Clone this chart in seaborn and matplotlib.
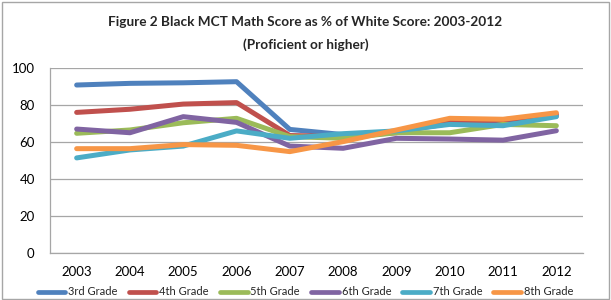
import matplotlib
matplotlib.use("Agg")
import matplotlib.pyplot as plt
import seaborn as sns
import pandas as pd
from matplotlib.patches import Rectangle

years = ["2003", "2004", "2005", "2006", "2007", "2008", "2009", "2010", "2011", "2012"]
grade3 = [90.8, 91.7, 92.0, 92.6, 66.8, 64.0, 65.5, 70.0, 71.0, 74.0]
grade4 = [76.0, 77.7, 80.5, 81.3, 63.5, 63.0, 65.0, 71.0, 72.0, 75.0]
grade5 = [64.7, 66.5, 70.4, 72.8, 62.9, 62.0, 65.0, 65.0, 69.5, 68.8]
grade6 = [67.0, 65.0, 73.7, 70.6, 57.8, 56.6, 62.0, 61.6, 61.0, 66.1]
grade7 = [51.4, 55.7, 57.8, 66.0, 62.0, 64.5, 66.0, 69.5, 68.8, 73.7]
grade8 = [56.4, 56.4, 58.6, 58.2, 54.8, 60.2, 66.5, 72.8, 72.3, 75.8]
series_names = ["3rd Grade", "4th Grade", "5th Grade", "6th Grade", "7th Grade", "8th Grade"]
colors = ["#4F81BD", "#C0504D", "#9BBB59", "#8064A2", "#4BACC6", "#F79646"]

rows = []
for name, vals in zip(series_names, [grade3, grade4, grade5, grade6, grade7, grade8]):
    for i, (y, v) in enumerate(zip(years, vals)):
        rows.append({"idx": i, "year": y, "value": v, "series": name})
df = pd.DataFrame(rows)

sns.set_theme(style="white")
plt.rcParams["font.family"] = ["Lato", "DejaVu Sans"]

fig = plt.figure(figsize=(6.11, 3.0), dpi=100)
ax = fig.add_axes([50/611, 1-253/300, 533/611, 185/300])

sns.lineplot(data=df, x="idx", y="value", hue="series", palette=colors,
             hue_order=series_names, linewidth=3.6, ax=ax, sort=False,
             solid_capstyle="round", legend=True)

ax.set_xlim(-0.5, 9.5)
ax.set_ylim(0, 100)
ax.set_yticks([0, 20, 40, 60, 80, 100])
ax.set_xticks(range(len(years)))
ax.set_xticklabels(years)
ax.yaxis.grid(True, color="#a6a6a6", linewidth=0.9)
ax.set_axisbelow(True)
ax.set_xlabel("")
ax.set_ylabel("")
for s in ["top", "right"]:
    ax.spines[s].set_visible(False)
for s in ["left", "bottom"]:
    ax.spines[s].set_color("#a6a6a6")
    ax.spines[s].set_linewidth(0.9)
ax.tick_params(axis="both", labelsize=9.5, colors="#000000", length=0, pad=9)
ax.tick_params(axis="y", pad=11)

handles, labels = ax.get_legend_handles_labels()
for h in handles:
    h.set_linewidth(3.4)
ax.get_legend().remove()
fig.legend(handles, labels, loc="center", bbox_to_anchor=(0.5, 0.027), ncol=6,
           frameon=False, fontsize=8, handlelength=2.5, handletextpad=0.25,
           columnspacing=1.0, borderaxespad=0)

fig.text(0.5, 0.928, "Figure 2 Black MCT Math Score as % of White Score: 2003-2012",
         ha="center", va="center", fontsize=9.8, fontweight="bold")
fig.text(0.5, 0.85, "(Proficient or higher)", ha="center", va="center",
         fontsize=9.8, fontweight="bold")

fig.patches.append(Rectangle((0.004, 0.005), 0.992, 0.99, transform=fig.transFigure,
                             fill=False, edgecolor="#a6a6a6", linewidth=1.0))

fig.savefig("out.png", dpi=100)
